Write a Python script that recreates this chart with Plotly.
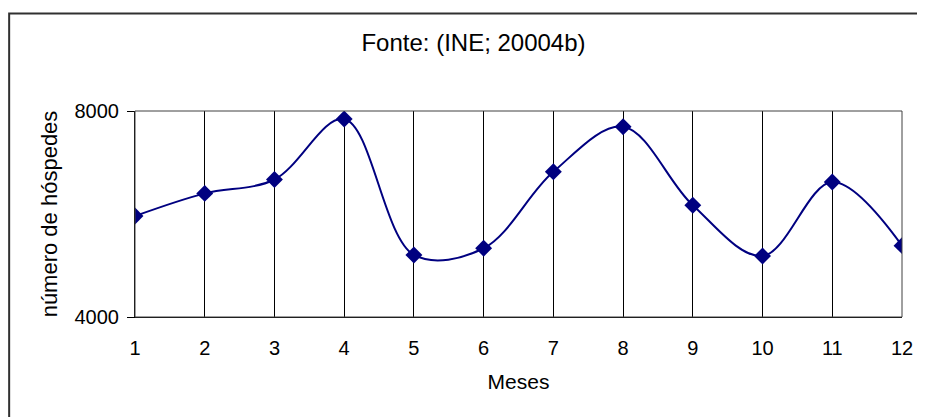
import plotly.graph_objects as go

meses = [1, 2, 3, 4, 5, 6, 7, 8, 9, 10, 11, 12]
hospedes = [5960, 6400, 6670, 7845, 5205, 5335, 6820, 7695, 6170, 5185, 6620, 5385]
y_ticks = [4000, 8000]

navy = "#000080"
font_family = "Liberation Sans, Arial, sans-serif"

W, H = 917, 409
L, R, T, B = 127, 19, 103, 100
pw, ph = W - L - R, H - T - B

fig = go.Figure()
fig.add_trace(go.Scatter(
    x=meses, y=hospedes, mode="lines+markers",
    line=dict(color=navy, width=2, shape="spline", smoothing=1.0),
    marker=dict(symbol="diamond", size=13, color=navy),
    showlegend=False,
))

fig.update_layout(
    width=W, height=H,
    margin=dict(l=L, r=R, t=T, b=B),
    paper_bgcolor="white", plot_bgcolor="white",
    font=dict(family=font_family, color="black", size=20),
    title=dict(text="Fonte: (INE; 20004b)", x=465.5 / W, xanchor="center",
               y=1 - 35 / H, yanchor="middle",
               font=dict(size=24, family=font_family, color="black")),
    xaxis=dict(
        range=[1, 12], tickvals=meses, ticktext=[str(m) for m in meses],
        showgrid=True, gridcolor="black", gridwidth=1,
        showline=True, linecolor="black", linewidth=1,
        ticks="", ticklabelstandoff=13, zeroline=False,
        title=dict(text="Meses", font=dict(size=21), standoff=16),
    ),
    yaxis=dict(
        range=[4000, 8000], tickvals=y_ticks,
        showgrid=False, showline=True, linecolor="black", linewidth=1,
        ticks="outside", ticklen=7, tickcolor="black", zeroline=False,
        ticklabelstandoff=4,
        title=dict(text="número de hóspedes", font=dict(size=22), standoff=10),
    ),
    shapes=[
        dict(type="rect", xref="paper", yref="paper", x0=0, x1=1, y0=0, y1=1,
             line=dict(color="#404040", width=1), layer="above"),
        dict(type="rect", xref="paper", yref="paper",
             x0=(0.5 - L) / pw, x1=1.3, y0=-1.0, y1=(T + ph - 5.5) / ph,
             line=dict(color="#303030", width=2), layer="below"),
    ],
)

fig.write_html("out.html")
